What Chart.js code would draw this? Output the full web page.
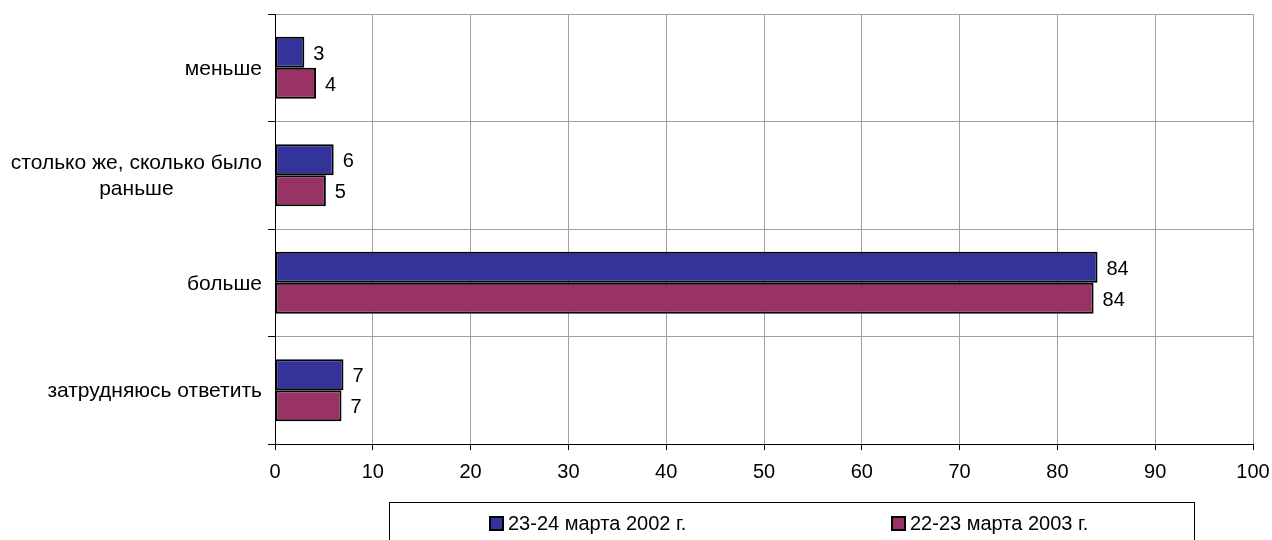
<!DOCTYPE html>
<html>
<head>
<meta charset="utf-8">
<script src="https://cdn.jsdelivr.net/npm/chart.js@4.4.1/dist/chart.umd.min.js"></script>
<style>
html, body { margin: 0; padding: 0; background: #fff; }
</style>
</head>
<body>
<canvas id="myChart" width="1272" height="540"></canvas>
<script>
const categories = [
    ['меньше'],
    ['столько же, сколько было', 'раньше'],
    ['больше'],
    ['затрудняюсь ответить']
];
const seriesNames = ['23-24 марта 2002 г.', '22-23 марта 2003 г.'];
const values2002 = [3.0, 6.0, 84.1, 7.0];
const values2003 = [4.2, 5.2, 83.7, 6.8];
const xTicks = [0, 10, 20, 30, 40, 50, 60, 70, 80, 90, 100];

const FONT = '"Liberation Sans", Arial, sans-serif';
const colors = ['#333399', '#993366'];

// category labels: right aligned block, lines centred inside it
const catLabels = {
    id: 'catLabels',
    afterDraw(chart) {
        const ctx = chart.ctx;
        const y = chart.scales.y;
        ctx.save();
        ctx.font = '21px ' + FONT;
        ctx.fillStyle = '#000';
        ctx.textAlign = 'center';
        ctx.textBaseline = 'middle';
        categories.forEach(function(lines, i) {
            const cy = y.getPixelForValue(i);
            let w = 0;
            for (const l of lines) w = Math.max(w, ctx.measureText(l).width);
            const cx = chart.chartArea.left - 13 - w / 2;
            lines.forEach(function(l, j) {
                ctx.fillText(l, cx, cy + 1 + (j - (lines.length - 1) / 2) * 26);
            });
        });
        ctx.restore();
    }
};

// value labels at bar ends
const valueLabels = {
    id: 'valueLabels',
    afterDatasetsDraw(chart) {
        const ctx = chart.ctx;
        ctx.save();
        ctx.font = '20px ' + FONT;
        ctx.fillStyle = '#000';
        ctx.textAlign = 'left';
        ctx.textBaseline = 'middle';
        chart.data.datasets.forEach(function(ds, di) {
            const meta = chart.getDatasetMeta(di);
            meta.data.forEach(function(bar, i) {
                ctx.fillText(String(Math.round(ds.data[i])), bar.x + 9, bar.y + 2);
            });
        });
        ctx.restore();
    }
};

// boxed legend under the chart
const boxLegend = {
    id: 'boxLegend',
    afterDraw(chart) {
        const ctx = chart.ctx;
        ctx.save();
        ctx.strokeStyle = '#000';
        ctx.lineWidth = 1;
        ctx.strokeRect(389.5, 502.5, 805, 60);
        ctx.font = '20px ' + FONT;
        ctx.textAlign = 'left';
        ctx.textBaseline = 'middle';
        const xs = [490, 892];
        chart.data.datasets.forEach(function(ds, i) {
            ctx.fillStyle = ds.backgroundColor;
            ctx.fillRect(xs[i], 517, 13, 13);
            ctx.lineWidth = 2;
            ctx.strokeRect(xs[i], 517, 13, 13);
            ctx.fillStyle = '#000';
            ctx.fillText(ds.label, xs[i] + 18, 524);
        });
        ctx.restore();
    }
};

const ctx = document.getElementById('myChart');
const myChart = new Chart(ctx, {
    type: 'bar',
    data: {
        labels: categories,
        datasets: [{
            label: seriesNames[0],
            data: values2002,
            backgroundColor: colors[0],
            borderColor: '#000',
            borderWidth: 2,
            borderSkipped: false
        }, {
            label: seriesNames[1],
            data: values2003,
            backgroundColor: colors[1],
            borderColor: '#000',
            borderWidth: 2,
            borderSkipped: false
        }]
    },
    options: {
        indexAxis: 'y',
        responsive: false,
        animation: false,
        devicePixelRatio: 1,
        layout: { padding: { top: 14, right: 19, bottom: 0, left: 0 } },
        datasets: { bar: { categoryPercentage: 0.575, barPercentage: 1 } },
        plugins: {
            legend: { display: false },
            tooltip: { enabled: false }
        },
        scales: {
            x: {
                min: 0,
                max: 100,
                afterBuildTicks: function(scale) {
                    scale.ticks = xTicks.map(v => ({ value: v }));
                },
                afterFit: function(scale) {
                    scale.height = 96;
                    scale.paddingRight = 0;
                    scale.paddingLeft = 0;
                },
                grid: { color: '#a0a0a0', tickColor: '#000', tickLength: 6 },
                border: { color: '#000', width: 1 },
                ticks: { color: '#000', padding: 10, font: { family: FONT, size: 20 } }
            },
            y: {
                afterFit: function(scale) { scale.width = 275; },
                grid: { color: '#a0a0a0', tickColor: '#000', tickLength: 7, offset: true },
                border: { color: '#000', width: 1 },
                ticks: { display: false }
            }
        }
    },
    plugins: [catLabels, valueLabels, boxLegend]
});
</script>
</body>
</html>
